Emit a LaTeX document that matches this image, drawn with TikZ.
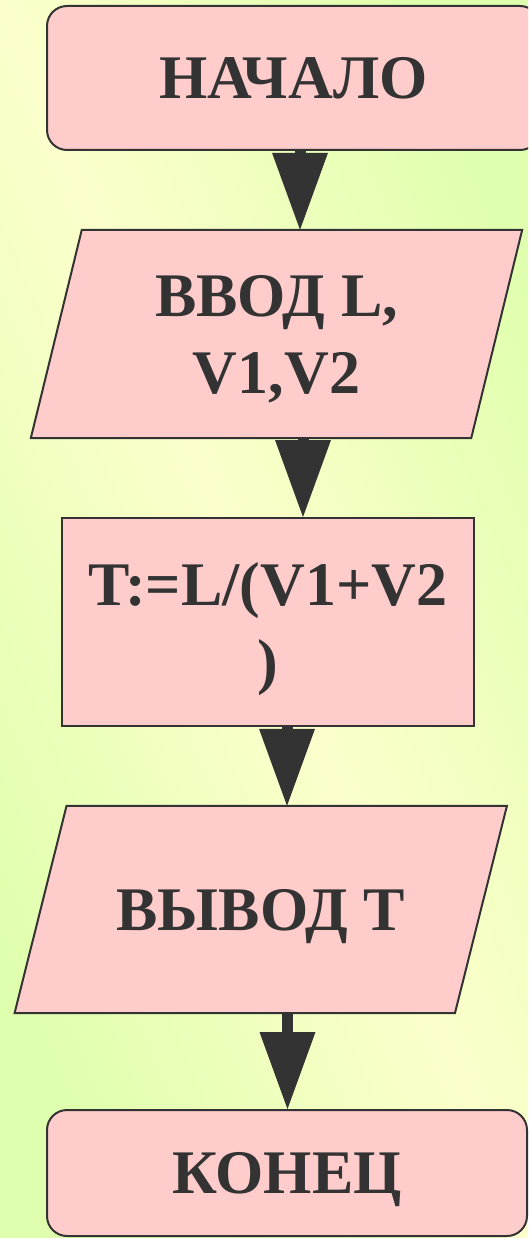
\documentclass[tikz,border=0pt]{standalone}
\usepackage{fontspec}
\setmainfont{Liberation Serif}
\usetikzlibrary{arrows.meta}
\definecolor{bgyellow}{HTML}{FCFFCC}
\definecolor{bggreen}{HTML}{E0FFAE}
\definecolor{boxfill}{HTML}{FFCCCC}
\definecolor{ink}{HTML}{333333}
\pgfdeclarehorizontalshading{bgshade}{100bp}{color(0bp)=(bggreen); color(25bp)=(bggreen); color(50bp)=(bgyellow); color(75bp)=(bggreen); color(100bp)=(bggreen)}
\pgfdeclarelayer{bglayer}
\pgfdeclarelayer{shapes}
\pgfsetlayers{bglayer,shapes,main}
\tikzset{
  txt/.style={inner sep=0pt, text=ink, text depth=0pt,
    font=\bfseries\fontsize{62pt}{77pt}\selectfont, align=center},
  blk/.style={txt, draw=ink, fill=boxfill, line width=2pt},
  term/.style={blk, rectangle, rounded corners=20pt},
  proc/.style={blk, rectangle},
  io/.style={txt, rectangle},
  ioshape/.style={draw=ink, fill=boxfill, line width=2pt, line join=miter},
  arr/.style={draw=ink, line width=11pt, -{Triangle[length=77pt,width=56pt,line width=0pt]}, fill=ink}
}
\begin{document}
\begin{tikzpicture}[x=1pt,y=-1pt]
\useasboundingbox (0,0) rectangle (528,1238);
\begin{pgfonlayer}{bglayer}
\shade[shading=bgshade, shading angle=23.1] (0,0) rectangle (528,1238);
\end{pgfonlayer}
\begin{scope}
\clip (0,0) rectangle (528,1238);
\node[term, minimum width=493pt, minimum height=144pt] (start) at (293.5,78) {НАЧАЛО};
\end{scope}
\node[io, minimum width=440pt, minimum height=208pt] (in) at (276.5,334) {ВВОД L,\\V1,V2};
\node[proc, minimum width=412pt, minimum height=208pt] (calc) at (268,622) {T:=L/(V1+V2\\)};
\node[io, minimum width=440pt, minimum height=207pt] (out) at (260.75,909.5) {ВЫВОД T};
\node[term, minimum width=480pt, minimum height=126pt] (end) at (287,1173) {КОНЕЦ};
\begin{pgfonlayer}{shapes}
\draw[ioshape] ([xshift=25.5pt]in.north west) -- ([xshift=25.5pt]in.north east)
  -- ([xshift=-25.5pt]in.south east) -- ([xshift=-25.5pt]in.south west) -- cycle;
\draw[ioshape] ([xshift=26pt]out.north west) -- ([xshift=26pt]out.north east)
  -- ([xshift=-26pt]out.south east) -- ([xshift=-26pt]out.south west) -- cycle;
\end{pgfonlayer}
\coordinate (x1) at (300,0);
\coordinate (x2) at (303,0);
\coordinate (x3) at (287,0);
\coordinate (x4) at (287.5,0);
\draw[arr] (start.south -| x1) -- (in.north -| x1);
\draw[arr] (in.south -| x2) -- (calc.north -| x2);
\draw[arr] (calc.south -| x3) -- (out.north -| x3);
\draw[arr] (out.south -| x4) -- (end.north -| x4);
\end{tikzpicture}
\end{document}
